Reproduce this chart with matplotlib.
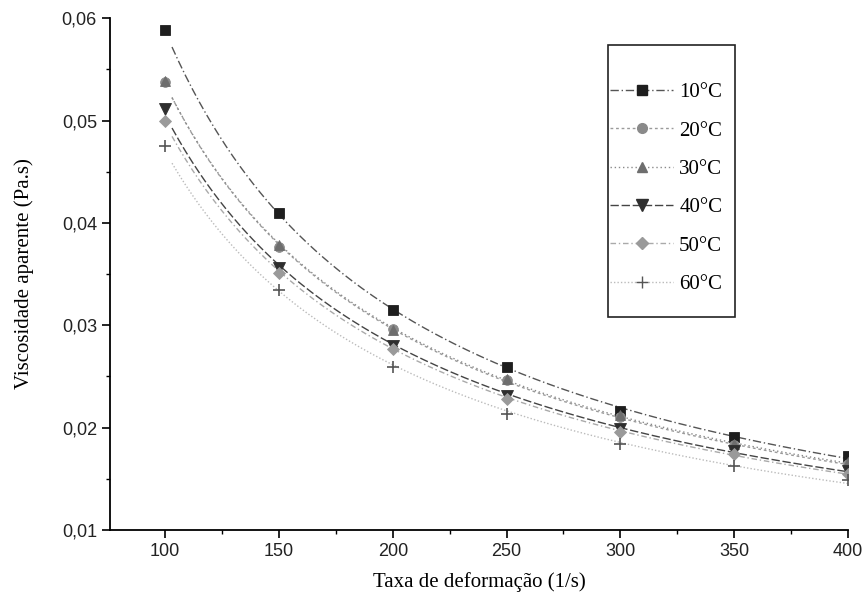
import numpy as np
import matplotlib
matplotlib.use("Agg")
import matplotlib.pyplot as plt
from matplotlib.ticker import MultipleLocator, FuncFormatter
from matplotlib.patches import Rectangle

shear_rate = [100, 150, 200, 250, 300, 350, 400]
labels = ["10°C", "20°C", "30°C", "40°C", "50°C", "60°C"]
v10 = [0.0588, 0.0410, 0.0315, 0.0259, 0.0216, 0.0191, 0.0172]
v20 = [0.0538, 0.0376, 0.0296, 0.0246, 0.0210, 0.0183, 0.0164]
v30 = [0.0539, 0.0378, 0.0295, 0.0247, 0.0212, 0.0184, 0.0166]
v40 = [0.0511, 0.0356, 0.0280, 0.0231, 0.0199, 0.0177, 0.0158]
v50 = [0.0500, 0.0351, 0.0277, 0.0228, 0.0196, 0.0174, 0.0155]
v60 = [0.0475, 0.0334, 0.0259, 0.0213, 0.0184, 0.0162, 0.0149]
series = [v10, v20, v30, v40, v50, v60]

markers = ["s", "o", "^", "v", "D", "+"]
mcolors = ["#1e1e1e", "#8a8a8a", "#6e6e6e", "#2e2e2e", "#9a9a9a", "#555555"]
lcolors = ["#555555", "#9a9a9a", "#8a8a8a", "#444444", "#aaaaaa", "#bbbbbb"]
lstyles = [(0, (6, 2, 1, 2)), (0, (2, 2)), (0, (1, 2)), (0, (6, 2)), (0, (4, 2, 1, 2)), (0, (1, 1.5))]
msizes = [7, 7, 7, 8, 6, 9]

serif = ["Liberation Serif", "DejaVu Serif"]
sans = ["Liberation Sans", "DejaVu Sans"]

fig = plt.figure(figsize=(8.67, 6.07), dpi=100)
ax = fig.add_axes([0.127, 0.127, 0.851, 0.843])

x = np.array(shear_rate, dtype=float)
xf = np.linspace(103, 400, 200)
for vals, lab, mk, mc, lc, ls, ms in zip(series, labels, markers, mcolors, lcolors, lstyles, msizes):
    y = np.array(vals)
    b, a = np.polyfit(np.log(x), np.log(y), 1)
    ax.plot(xf, np.exp(a) * xf ** b, color=lc, lw=1.0, linestyle=ls, zorder=1)
    ax.plot(x, y, linestyle="none", marker=mk, color=mc, markersize=ms,
            markeredgewidth=1.2 if mk == "+" else 0.6, zorder=3)
    ax.plot([], [], linestyle=ls, color=lc, lw=1.0, marker=mk, markersize=ms,
            markerfacecolor=mc, markeredgecolor=mc, label=lab)

ax.set_xlim(75.8, 400)
ax.set_ylim(0.01, 0.06)
ax.spines["top"].set_visible(False)
ax.spines["right"].set_visible(False)
for s in ["left", "bottom"]:
    ax.spines[s].set_linewidth(1.3)
ax.set_xticks([100, 150, 200, 250, 300, 350, 400])
ax.xaxis.set_minor_locator(MultipleLocator(25))
ax.yaxis.set_major_locator(MultipleLocator(0.01))
ax.yaxis.set_minor_locator(MultipleLocator(0.005))
ax.yaxis.set_major_formatter(FuncFormatter(lambda v, p: f"{v:.2f}".replace(".", ",")))
ax.tick_params(which="major", direction="out", length=6, width=1.2, labelsize=13)
ax.tick_params(which="minor", direction="out", length=3, width=1.0)
for t in ax.get_xticklabels() + ax.get_yticklabels():
    t.set_family(sans)
    t.set_color("#222222")

ax.set_xlabel("Taxa de deformação (1/s)", fontsize=15, family=serif)
ax.set_ylabel("Viscosidade aparente (Pa.s)", fontsize=15, family=serif)
ax.yaxis.set_label_coords(-0.103, 0.5)
ax.xaxis.set_label_coords(0.5, -0.083)

# legend frame (pixel box ~ x 608..735, y 45..317)
W, H = 0.851 * 867, 0.843 * 607
x0, y0 = 110.1, 18.0
rx0 = (608 - x0) / W
rx1 = (735 - x0) / W
ry1 = 1 - (45 - y0) / H
ry0 = 1 - (317 - y0) / H
ax.add_patch(Rectangle((rx0, ry0), rx1 - rx0, ry1 - ry0, transform=ax.transAxes,
                       fill=False, edgecolor="#222222", lw=1.2, zorder=4, clip_on=False))

leg = ax.legend(loc="center left", bbox_to_anchor=((600 - x0) / W, 1 - (188 - y0) / H),
                frameon=False, prop={"family": serif, "size": 15},
                handlelength=3.0, labelspacing=0.9, borderpad=0.0, handletextpad=0.3)

fig.savefig("out.png", dpi=100)
